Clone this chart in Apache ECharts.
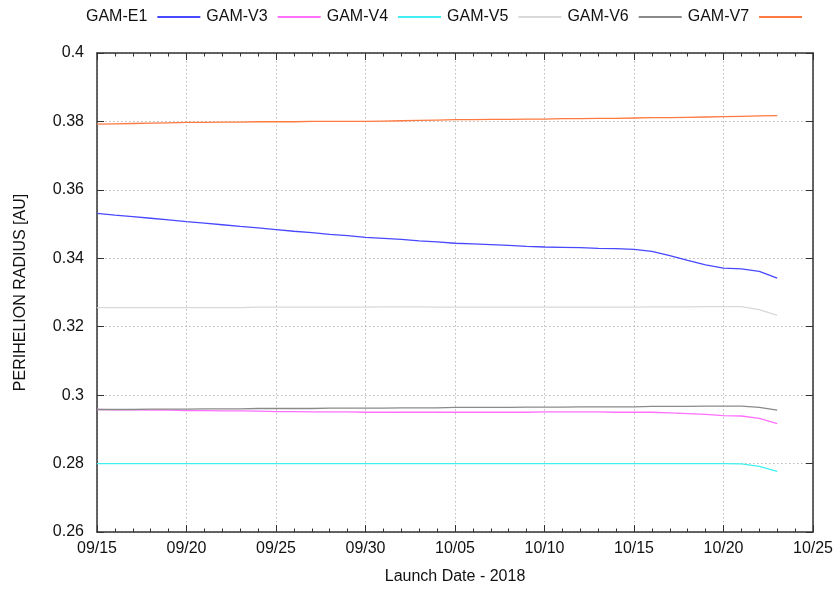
<!DOCTYPE html>
<html>
<head>
<meta charset="utf-8">
<script src="https://cdn.jsdelivr.net/npm/echarts@6/dist/echarts.min.js"></script>
<style>html,body{margin:0;padding:0;background:#fff}#c{width:837px;height:590px}</style>
</head>
<body>
<div id="c"></div>
<script>
// Day offsets from 09/15/2018 (0 .. 38 -> 10/23)
var days = [0,1,2,3,4,5,6,7,8,9,10,11,12,13,14,15,16,17,18,19,20,21,22,23,24,25,26,27,28,29,30,31,32,33,34,35,36,37,38];
var xTickLabels = ['09/15','09/20','09/25','09/30','10/05','10/10','10/15','10/20','10/25'];
var seriesNames = ['GAM-E1','GAM-V3','GAM-V4','GAM-V5','GAM-V6','GAM-V7'];

var gamE1 = [0.3531,0.3526,0.3522,0.3517,0.3512,0.3507,0.3503,0.3498,0.3493,0.3489,0.3484,0.3479,0.3475,0.3470,0.3466,0.3461,0.3458,0.3455,0.3451,0.3448,0.3444,0.3442,0.3440,0.3438,0.3435,0.3433,0.3432,0.3431,0.3429,0.3428,0.3426,0.3420,0.3408,0.3394,0.3381,0.3371,0.3369,0.3362,0.3342];
var gamV3 = [0.2958,0.2957,0.2957,0.2956,0.2956,0.2955,0.2955,0.2954,0.2954,0.2953,0.2952,0.2952,0.2951,0.2951,0.2951,0.2950,0.2950,0.2950,0.2950,0.2950,0.2950,0.2950,0.2950,0.2950,0.2950,0.2951,0.2951,0.2951,0.2951,0.2950,0.2950,0.2950,0.2948,0.2946,0.2944,0.2940,0.2939,0.2932,0.2917];
var gamV4 = [0.2800,0.2800,0.2800,0.2800,0.2800,0.2800,0.2800,0.2800,0.2800,0.2800,0.2800,0.2800,0.2800,0.2800,0.2800,0.2800,0.2800,0.2800,0.2800,0.2800,0.2800,0.2800,0.2800,0.2800,0.2800,0.2800,0.2800,0.2800,0.2800,0.2800,0.2800,0.2800,0.2800,0.2800,0.2800,0.2800,0.2799,0.2792,0.2777];
var gamV5 = [0.3256,0.3256,0.3256,0.3256,0.3256,0.3256,0.3256,0.3256,0.3256,0.3257,0.3257,0.3257,0.3257,0.3257,0.3257,0.3257,0.3258,0.3258,0.3258,0.3257,0.3257,0.3257,0.3257,0.3257,0.3257,0.3257,0.3257,0.3257,0.3257,0.3257,0.3257,0.3258,0.3258,0.3258,0.3259,0.3259,0.3259,0.3250,0.3233];
var gamV6 = [0.2958,0.2958,0.2958,0.2959,0.2959,0.2959,0.2960,0.2960,0.2960,0.2961,0.2961,0.2961,0.2961,0.2962,0.2962,0.2962,0.2962,0.2963,0.2963,0.2963,0.2964,0.2964,0.2964,0.2964,0.2965,0.2965,0.2965,0.2966,0.2966,0.2966,0.2966,0.2967,0.2967,0.2967,0.2968,0.2968,0.2968,0.2964,0.2956];
var gamV7 = [0.3792,0.3793,0.3794,0.3795,0.3796,0.3797,0.3797,0.3798,0.3798,0.3799,0.3799,0.3799,0.3800,0.3800,0.3800,0.3800,0.3801,0.3802,0.3803,0.3804,0.3805,0.3805,0.3806,0.3806,0.3807,0.3807,0.3808,0.3808,0.3809,0.3809,0.3810,0.3811,0.3811,0.3812,0.3813,0.3814,0.3815,0.3816,0.3817];

var colors = ['#4848ff','#ff70ff','#40f0f0','#d9d9d9','#8a8a8a','#ff7a40'];
var allData = [gamE1,gamV3,gamV4,gamV5,gamV6,gamV7];

var FONT = 'Liberation Sans';
var axisColor = '#333';
var chart = echarts.init(document.getElementById('c'), null, {renderer:'canvas'});

var series = seriesNames.map(function(n,i){
  return {
    name: n, type: 'line', symbol: 'none', smooth: false,
    lineStyle: {color: colors[i], width: 1.3},
    itemStyle: {color: colors[i]},
    data: days.map(function(d,j){ return [d, allData[i][j]]; }),
    z: 3
  };
});

var tickAxisCommon = {
  axisLine: {show: true, onZero: false, lineStyle: {color: axisColor, width: 1.5}},
  axisTick: {show: true, inside: true, length: 7, lineStyle: {color: axisColor, width: 1}},
  minorTick: {show: true, splitNumber: 5, length: 3.5, lineStyle: {color: axisColor, width: 1}}
};

var option = {
  animation: false,
  backgroundColor: '#fff',
  textStyle: {fontFamily: FONT},
  legend: {
    top: 4, left: 81, align: 'right',
    itemWidth: 43, itemHeight: 2, itemGap: 6, icon: 'rect',
    textStyle: {fontFamily: FONT, fontSize: 16, color: '#111', padding: [0, 5, 0, 0]},
    data: seriesNames
  },
  grid: {left: 97, right: 24, top: 53, bottom: 56, containLabel: false},
  xAxis: [
    Object.assign({
      type: 'value', min: 0, max: 40, interval: 5,
      name: 'Launch Date - 2018', nameLocation: 'middle', nameGap: 37,
      nameTextStyle: {fontFamily: FONT, fontSize: 16, color: '#111'},
      axisLabel: {fontFamily: FONT, fontSize: 16, color: '#111', margin: 9,
        formatter: function(v){ return xTickLabels[Math.round(v/5)] || ''; }},
      splitLine: {show: true, lineStyle: {color: '#bbb', type: [1.5, 2.5], width: 1}}
    }, tickAxisCommon),
    Object.assign({
      type: 'value', min: 0, max: 40, interval: 5, position: 'top',
      axisLabel: {show: false}, splitLine: {show: false}
    }, tickAxisCommon)
  ],
  yAxis: [
    Object.assign({
      type: 'value', min: 0.26, max: 0.4, interval: 0.02,
      name: 'PERIHELION RADIUS [AU]', nameLocation: 'middle', nameGap: 68,
      nameTextStyle: {fontFamily: FONT, fontSize: 16, color: '#111'},
      axisLabel: {fontFamily: FONT, fontSize: 16, color: '#111', margin: 13,
        formatter: function(v){ return String(parseFloat(v.toFixed(2))); }},
      splitLine: {show: true, lineStyle: {color: '#bbb', type: [1.5, 2.5], width: 1}}
    }, tickAxisCommon, {minorTick: {show: false}}),
    Object.assign({
      type: 'value', min: 0.26, max: 0.4, interval: 0.02, position: 'right',
      axisLabel: {show: false}, splitLine: {show: false}
    }, tickAxisCommon, {minorTick: {show: false}})
  ],
  series: series
};
chart.setOption(option);
</script>
</body>
</html>
